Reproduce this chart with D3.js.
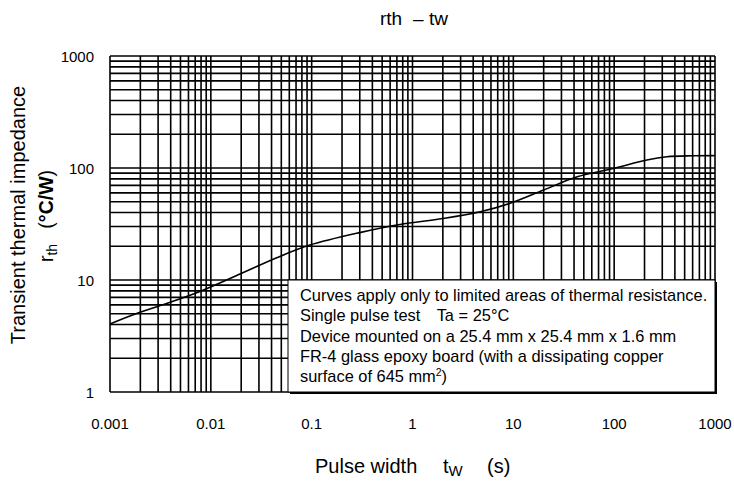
<!DOCTYPE html>
<html>
<head>
<meta charset="utf-8">
<script src="https://cdn.jsdelivr.net/npm/d3@7"></script>
<style>
  body { margin: 0; background: #fff; }
  svg text { font-family: "Liberation Sans", Arial, sans-serif; fill: #000; }
</style>
</head>
<body>
<div id="chart"></div>
<script>
// pulse width (s) and transient thermal impedance (°C/W)
const tw = [0.001, 0.0017, 0.0037, 0.0078, 0.0195, 0.045, 0.096, 0.3, 0.75, 2, 4.7, 9.3, 20, 43, 98, 211, 333, 600, 1000];
const rth = [4.05, 4.9, 6.2, 7.9, 11.3, 15.8, 20.5, 26.5, 31.3, 35.4, 40.7, 48.4, 63.6, 83.6, 99, 118, 126, 128.5, 129];

const xTicks = [0.001, 0.01, 0.1, 1, 10, 100, 1000];
const xTickLabels = ["0.001", "0.01", "0.1", "1", "10", "100", "1000"];
const yTicks = [1, 10, 100, 1000];
const yTickLabels = ["1", "10", "100", "1000"];
const noteLines = [
  "Curves apply only to limited areas of thermal resistance.",
  "Single pulse test\u2003Ta = 25°C",
  "Device mounted on a 25.4 mm x 25.4 mm x 1.6 mm",
  "FR-4 glass epoxy board (with a dissipating copper",
  "surface of 645 mm"
];

const width = 734, height = 484;
const margin = {top: 56, right: 19, bottom: 92, left: 110};

const svg = d3.select("#chart").append("svg")
  .attr("width", width)
  .attr("height", height);

const x = d3.scaleLog().domain([0.001, 1000]).range([margin.left, width - margin.right]);
const y = d3.scaleLog().domain([1, 1000]).range([height - margin.bottom, margin.top]);

// minor + major grid
const gridX = [];
const gridY = [];
for (let e = -3; e < 3; e++) for (let m = 1; m < 10; m++) gridX.push(m * Math.pow(10, e));
gridX.push(1000);
for (let e = 0; e < 3; e++) for (let m = 1; m < 10; m++) gridY.push(m * Math.pow(10, e));
gridY.push(1000);

const grid = svg.append("g").attr("stroke", "#000").attr("stroke-width", 1.6);
grid.selectAll("line.v").data(gridX).enter().append("line")
  .attr("class", "v")
  .attr("x1", d => x(d)).attr("x2", d => x(d))
  .attr("y1", y(1)).attr("y2", y(1000));
grid.selectAll("line.h").data(gridY).enter().append("line")
  .attr("class", "h")
  .attr("x1", x(0.001)).attr("x2", x(1000))
  .attr("y1", d => y(d)).attr("y2", d => y(d));

// curve
const line = d3.line()
  .x((d, i) => x(tw[i]))
  .y(d => y(d))
  .curve(d3.curveCatmullRom.alpha(0.5));
svg.append("path")
  .datum(rth)
  .attr("d", line)
  .attr("fill", "none")
  .attr("stroke", "#000")
  .attr("stroke-width", 1.6);

// tick labels
svg.append("g").selectAll("text").data(xTicks).enter().append("text")
  .attr("x", d => x(d))
  .attr("y", height - margin.bottom + 37)
  .attr("text-anchor", "middle")
  .attr("font-size", 15)
  .text((d, i) => xTickLabels[i]);
svg.append("g").selectAll("text").data(yTicks).enter().append("text")
  .attr("x", margin.left - 16)
  .attr("y", d => y(d) + 6)
  .attr("text-anchor", "end")
  .attr("font-size", 15)
  .text((d, i) => yTickLabels[i]);

// note box
const bx = 288, by = 280, bw = x(1000) - bx, bh = y(1) - by;
svg.append("rect")
  .attr("x", bx + 2).attr("y", by + 2).attr("width", bw).attr("height", bh)
  .attr("fill", "#000");
svg.append("rect")
  .attr("x", bx).attr("y", by).attr("width", bw).attr("height", bh)
  .attr("fill", "#fff").attr("stroke", "#000").attr("stroke-width", 1);
const note = svg.append("g");
noteLines.forEach((t, i) => {
  const txt = note.append("text")
    .attr("x", bx + 12)
    .attr("y", by + 21 + i * 20.3)
    .attr("font-size", 16.4)
    .text(t);
  if (i === noteLines.length - 1) {
    txt.append("tspan").attr("font-size", 10.5).attr("dy", -6).text("2");
    txt.append("tspan").attr("dy", 6).text(")");
  }
});

// title
const title = svg.append("g").attr("font-size", 19);
title.append("text").attr("x", 380).attr("y", 25).text("rth");
title.append("text").attr("x", 413).attr("y", 25).text("\u2013");
title.append("text").attr("x", 429).attr("y", 25).text("tw");

// axis titles
const xl = svg.append("text")
  .attr("x", 315).attr("y", 473)
  .attr("font-size", 20);
xl.append("tspan").text("Pulse width");
xl.append("tspan").attr("x", 443).text("t");
xl.append("tspan").attr("font-size", 15).attr("dy", 3).text("W");
xl.append("tspan").attr("x", 487).attr("dy", -3).text("(s)");

svg.append("text")
  .attr("transform", "translate(25,215) rotate(-90)")
  .attr("text-anchor", "middle")
  .attr("font-size", 20)
  .text("Transient thermal impedance");
const yl = svg.append("text")
  .attr("transform", "translate(53,216) rotate(-90)")
  .attr("text-anchor", "middle")
  .attr("font-size", 19.5);
yl.append("tspan").text("r");
yl.append("tspan").attr("font-size", 14).attr("dy", 4).text("th");
yl.append("tspan").attr("dy", -4).text("\u2002 (");
yl.append("tspan").attr("font-weight", "bold").text("°C/W");
yl.append("tspan").text(")");
</script>
</body>
</html>
